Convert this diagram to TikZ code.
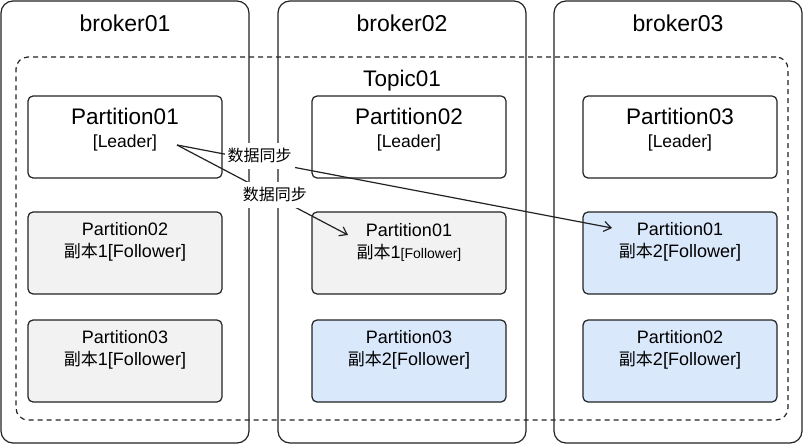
\documentclass[tikz,border=0pt]{standalone}
\usepackage{fontspec}
\setmainfont{Liberation Sans}
\newfontfamily\cjk{Noto Sans CJK SC}
\definecolor{ink}{HTML}{222222}
\definecolor{repgray}{HTML}{F2F2F2}
\definecolor{repblue}{HTML}{DAE8FC}
\usetikzlibrary{arrows.meta}

\begin{document}
\begin{tikzpicture}[x=1pt,y=-1pt,
	broker/.style={draw=ink,line width=1.2pt,rounded corners=12pt,
		minimum width=248pt,minimum height=442pt},
	topic/.style={draw=ink,line width=1.2pt,dash pattern=on 5pt off 4pt,
		rounded corners=12pt,minimum width=772pt,minimum height=363pt},
	part/.style={draw=ink,line width=1.2pt,rounded corners=5pt,
		minimum width=194pt,minimum height=82pt},
	leader/.style={part,fill=white},
	follow/.style={part,fill=repgray},
	follow2/.style={part,fill=repblue},
	title/.style={font=\fontsize{23}{27}\selectfont},
	pname/.style={font=\fontsize{22.5}{26}\selectfont},
	prole/.style={font=\fontsize{17.5}{20}\selectfont},
	ftext/.style={align=center,font=\fontsize{18}{22}\selectfont},
	sync/.style={draw=ink,line width=1.2pt,-{Straight Barb[length=7pt,width=10pt]}},
	synclbl/.style={fill=white,inner sep=3pt,minimum height=26pt,
		font=\cjk\fontsize{16}{19}\selectfont}]
	\useasboundingbox (0,0) rectangle (805,446);

	% brokers and topic
	\node[broker] (b1) at (125,222) {};
	\node[broker] (b2) at (402,222) {};
	\node[broker] (b3) at (678,222) {};
	\node[topic] (topic) at (402,238.5) {};

	\node[title] (b1name) at (125,23) {broker01};
	\node[title] (b2name) at (402,23) {broker02};
	\node[title] (b3name) at (678,23) {broker03};
	\node[pname] (topicname) at (402,81) {Topic01};

	% leaders
	\node[leader] (p1) at (125,137) {};
	\node[leader] (p2) at (409,137) {};
	\node[leader] (p3) at (680,137) {};
	\node[pname] (p1name) at (125,116) {Partition01};
	\node[prole] (p1role) at (125,143) {[Leader]};
	\node[pname] (p2name) at (409,116) {Partition02};
	\node[prole] (p2role) at (409,143) {[Leader]};
	\node[pname] (p3name) at (680,116) {Partition03};
	\node[prole] (p3role) at (680,143) {[Leader]};

	% followers
	\node[follow] (f12) at (125,253) {};
	\node[follow] (f22) at (409,253) {};
	\node[follow2] (f32) at (680,253) {};
	\node[follow] (f13) at (125,361) {};
	\node[follow2] (f23) at (409,361) {};
	\node[follow2] (f33) at (680,361) {};

	\node[ftext] (f12txt) at (125,242)
		{Partition02\\{\cjk\fontsize{17}{22}\selectfont 副本}1[Follower]};
	\node[ftext] (f22txt) at (409,242)
		{Partition01\\{\cjk\fontsize{17}{22}\selectfont 副本}1{\fontsize{14}{22}\selectfont[Follower]}};
	\node[ftext] (f32txt) at (680,242)
		{Partition01\\{\cjk\fontsize{17}{22}\selectfont 副本}2[Follower]};
	\node[ftext] (f13txt) at (125,350)
		{Partition03\\{\cjk\fontsize{17}{22}\selectfont 副本}1[Follower]};
	\node[ftext] (f23txt) at (409,350)
		{Partition03\\{\cjk\fontsize{17}{22}\selectfont 副本}2[Follower]};
	\node[ftext] (f33txt) at (680,350)
		{Partition02\\{\cjk\fontsize{17}{22}\selectfont 副本}2[Follower]};

	% sync
	\coordinate (src) at (177,145);
	\coordinate (tipA) at (348,235);
	\coordinate (tipB) at (612,228);
	\draw[sync] (src) -- node[synclbl,pos=0.19,yshift=5pt] (sync1) {数据同步} (tipB);
	\draw[sync] (src) -- node[synclbl,pos=0.573,yshift=2pt] (sync2) {数据同步} (tipA);
\end{tikzpicture}
\end{document}
